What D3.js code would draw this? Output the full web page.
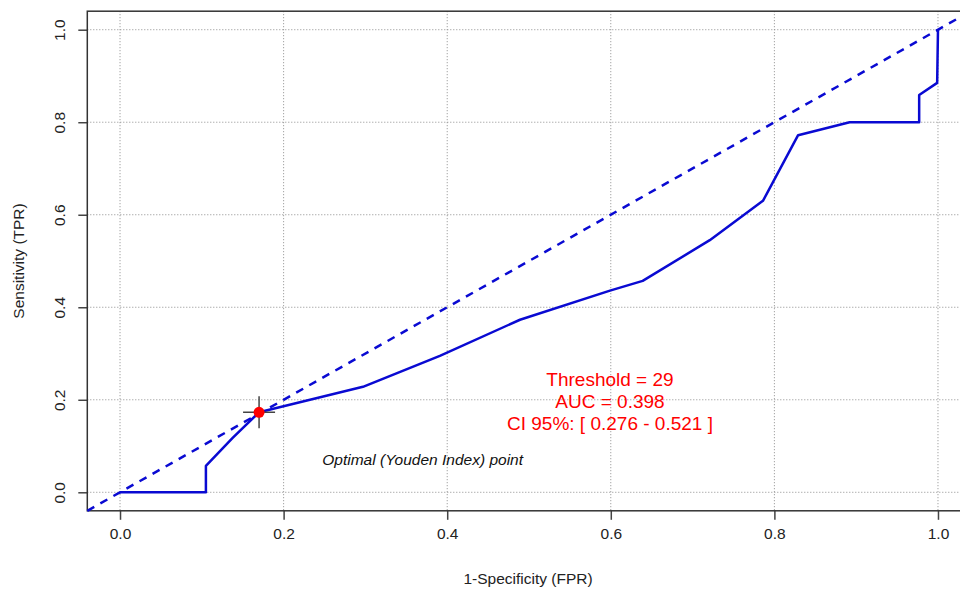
<!DOCTYPE html>
<html>
<head>
<meta charset="utf-8">
<script src="https://cdn.jsdelivr.net/npm/d3@7"></script>
<style>
  body { margin: 0; background: #fff; }
  svg { display: block; font-family: "Liberation Sans", Arial, sans-serif; }
</style>
</head>
<body>
<svg width="960" height="592"></svg>
<script>
// ROC curve points (FPR, TPR)
var fpr = [0, 0.105, 0.105, 0.138, 0.170, 0.297, 0.391, 0.489, 0.599, 0.639, 0.721, 0.786, 0.829, 0.892, 0.977, 0.977, 0.999, 1.0];
var tpr = [0, 0, 0.057, 0.118, 0.173, 0.228, 0.295, 0.373, 0.436, 0.457, 0.545, 0.630, 0.772, 0.800, 0.800, 0.859, 0.885, 1.0];

// optimal (Youden) point
var bestPoint = [0.170, 0.173];

var tickValues = [0, 0.2, 0.4, 0.6, 0.8, 1.0];
var statLines = ["Threshold = 29", "AUC = 0.398", "CI 95%: [ 0.276 - 0.521 ]"];
var optimalLabel = "Optimal (Youden Index) point";

var svg = d3.select("svg"),
    margin = { top: 11.2, left: 87.3 },
    width = 883.4,
    height = 499.6;

var x = d3.scaleLinear().domain([-0.04, 1.04]).range([0, width]);
var y = d3.scaleLinear().domain([-0.04, 1.04]).range([height, 0]);

var g = svg.append("g")
    .attr("transform", "translate(" + margin.left + "," + margin.top + ")");

// dotted grid
g.append("g").selectAll("line")
    .data(tickValues)
    .enter().append("line")
    .attr("x1", function(d) { return x(d); })
    .attr("x2", function(d) { return x(d); })
    .attr("y1", 0).attr("y2", height)
    .attr("stroke", "#8c8c8c").attr("stroke-width", 1).attr("stroke-dasharray", "1,2");

g.append("g").selectAll("line")
    .data(tickValues)
    .enter().append("line")
    .attr("y1", function(d) { return y(d); })
    .attr("y2", function(d) { return y(d); })
    .attr("x1", 0).attr("x2", width)
    .attr("stroke", "#8c8c8c").attr("stroke-width", 1).attr("stroke-dasharray", "1,2");

// axes
var xAxis = d3.axisBottom(x).tickValues(tickValues).tickSize(9).tickPadding(8).tickFormat(d3.format(".1f"));
var yAxis = d3.axisLeft(y).tickValues(tickValues).tickSize(9).tickFormat(d3.format(".1f"));

var gx = g.append("g")
    .attr("transform", "translate(0," + height + ")")
    .call(xAxis);
gx.select(".domain").remove();
gx.selectAll(".tick line").attr("stroke", "#444").attr("stroke-width", 1.5);
gx.selectAll(".tick text")
    .attr("font-size", 15.5)
    .attr("font-family", "Liberation Sans, Arial, sans-serif")
    .attr("fill", "#222");

var gy = g.append("g").call(yAxis);
gy.select(".domain").remove();
gy.selectAll(".tick line").attr("stroke", "#444").attr("stroke-width", 1.5);
gy.selectAll(".tick text")
    .attr("transform", "rotate(-90)")
    .attr("x", 0)
    .attr("y", -22)
    .attr("dy", 0)
    .attr("text-anchor", "middle")
    .attr("font-size", 15.5)
    .attr("font-family", "Liberation Sans, Arial, sans-serif")
    .attr("fill", "#222");

// box
g.append("rect")
    .attr("width", width).attr("height", height)
    .attr("fill", "none").attr("stroke", "#333").attr("stroke-width", 1.5);

// chance diagonal
g.append("line")
    .attr("x1", x(-0.04)).attr("y1", y(-0.04))
    .attr("x2", x(1.04)).attr("y2", y(1.04))
    .attr("stroke", "#0a0ad2").attr("stroke-width", 2.5).attr("stroke-dasharray", "8,7");

// ROC curve
var rocData = fpr.map(function(d, i) { return [d, tpr[i]]; });
var line = d3.line()
    .x(function(d) { return x(d[0]); })
    .y(function(d) { return y(d[1]); });

g.append("path")
    .datum(rocData)
    .attr("d", line)
    .attr("fill", "none")
    .attr("stroke", "#0a0ad2")
    .attr("stroke-width", 2.5)
    .attr("stroke-linejoin", "round");

// optimal point with crosshair
var px = x(bestPoint[0]), py = y(bestPoint[1]);
g.append("line")
    .attr("x1", px - 16).attr("x2", px + 16).attr("y1", py).attr("y2", py)
    .attr("stroke", "#444").attr("stroke-width", 1.5);
g.append("line")
    .attr("x1", px).attr("x2", px).attr("y1", py - 16).attr("y2", py + 16)
    .attr("stroke", "#444").attr("stroke-width", 1.5);
g.append("circle")
    .attr("cx", px).attr("cy", py).attr("r", 5.5)
    .attr("fill", "#ff0000");

g.append("text")
    .attr("x", x(0.37)).attr("y", y(0.058))
    .attr("text-anchor", "middle")
    .attr("font-size", 15.5)
    .attr("font-style", "italic")
    .attr("fill", "#111")
    .text(optimalLabel);

// stats text
g.append("g").selectAll("text")
    .data(statLines)
    .enter().append("text")
    .attr("x", x(0.599))
    .attr("y", function(d, i) { return 386 - margin.top + i * 22; })
    .attr("text-anchor", "middle")
    .attr("font-size", 19)
    .attr("fill", "#ff0000")
    .text(function(d) { return d; });

// axis titles
svg.append("text")
    .attr("x", 528).attr("y", 584)
    .attr("text-anchor", "middle")
    .attr("font-size", 15.5)
    .attr("fill", "#222")
    .text("1-Specificity (FPR)");

svg.append("text")
    .attr("transform", "translate(24," + (margin.top + height / 2) + ") rotate(-90)")
    .attr("text-anchor", "middle")
    .attr("font-size", 15.5)
    .attr("fill", "#222")
    .text("Sensitivity (TPR)");
</script>
</body>
</html>
